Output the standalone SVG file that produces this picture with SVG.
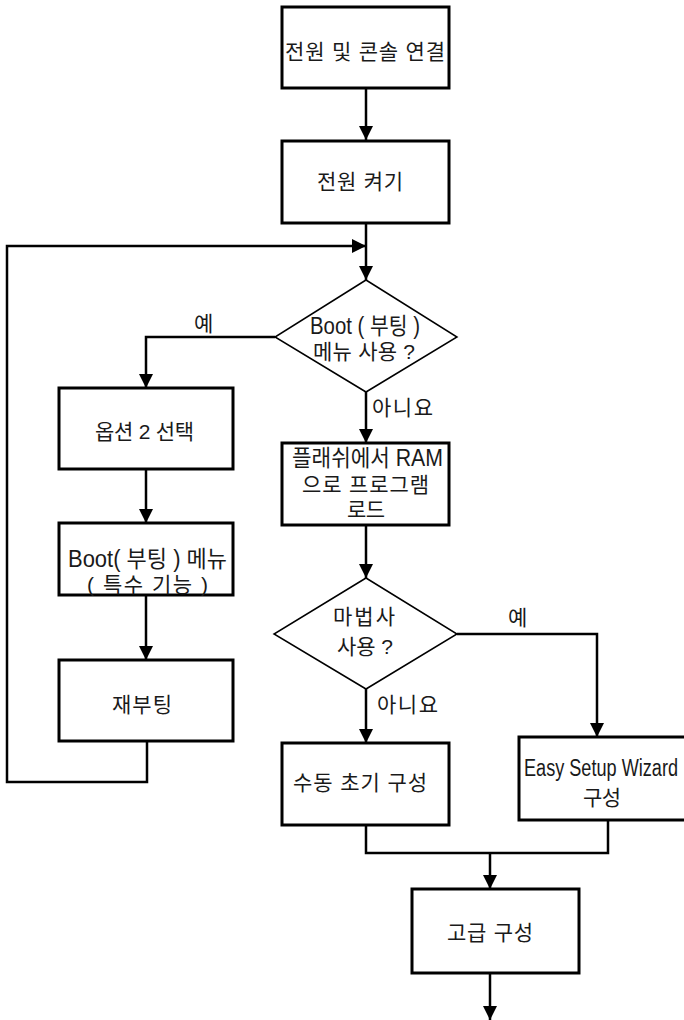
<svg xmlns="http://www.w3.org/2000/svg" width="684" height="1020" viewBox="0 0 684 1020">
<defs>
<style>
.box{fill:#fff;stroke:#000;stroke-width:3}
.dia{fill:#fff;stroke:#000;stroke-width:1.5}
.con{fill:none;stroke:#000;stroke-width:2.5;stroke-linejoin:miter}
text{font-family:"Liberation Sans","Noto Sans CJK KR",sans-serif;font-size:21px;fill:#1a1a1a;text-anchor:start}
.lat{font-size:23px}
</style>
<marker id="ah" markerUnits="userSpaceOnUse" markerWidth="14" markerHeight="14" refX="14" refY="7" orient="auto">
<path d="M0,0 L14,7 L0,14 z" fill="#000"/>
</marker>
</defs>
<rect width="684" height="1020" fill="#fff"/>
<g id="connectors">
<path class="con" d="M366,88 V140" marker-end="url(#ah)"/>
<path class="con" d="M366,223 V280" marker-end="url(#ah)"/>
<path class="con" d="M147,742 V782 H7 V246 H366" marker-end="url(#ah)"/>
<path class="con" d="M275,337 H146 V388" marker-end="url(#ah)"/>
<path class="con" d="M146,469 V523" marker-end="url(#ah)"/>
<path class="con" d="M146,595 V660" marker-end="url(#ah)"/>
<path class="con" d="M366,392 V443" marker-end="url(#ah)"/>
<path class="con" d="M366,525 V578" marker-end="url(#ah)"/>
<path class="con" d="M457,634 H597 V737" marker-end="url(#ah)"/>
<path class="con" d="M366,689 V743" marker-end="url(#ah)"/>
<path class="con" d="M366,825 V853 H608 V820"/>
<path class="con" d="M490,853 V889" marker-end="url(#ah)"/>
<path class="con" d="M490,973 V1020" marker-end="url(#ah)"/>
<text x="194" y="331" textLength="18">예</text>
<text x="372" y="415" textLength="61">아니요</text>
<text x="508" y="625" textLength="18">예</text>
<text x="377" y="712" textLength="61">아니요</text>
</g>
<g id="n1"><rect class="box" x="282" y="7" width="167" height="81"/><text x="285" y="59" textLength="160">전원 및 콘솔 연결</text></g>
<g id="n2"><rect class="box" x="282" y="141" width="167" height="82"/><text x="317" y="189" textLength="86">전원 켜기</text></g>
<g id="d1"><polygon class="dia" points="366,280 457,337 366,392 275,337"/><text class="lat" x="310" y="334" textLength="110" lengthAdjust="spacingAndGlyphs">Boot ( 부팅 )</text><text x="313" y="359" textLength="102">메뉴 사용 ?</text></g>
<g id="n3"><rect class="box" x="59" y="388" width="174" height="81"/><text x="95" y="439" textLength="99">옵션 2 선택</text></g>
<g id="n4"><rect class="box" x="59" y="523" width="174" height="72"/><text class="lat" x="68" y="567" textLength="159" lengthAdjust="spacingAndGlyphs">Boot( 부팅 ) 메뉴</text><text x="87" y="592" textLength="121">( 특수 기능 )</text></g>
<g id="n5"><rect class="box" x="59" y="660" width="174" height="81"/><text x="112" y="712" textLength="60">재부팅</text></g>
<g id="n6"><rect class="box" x="282" y="443" width="167" height="82"/><text class="lat" x="292" y="466" textLength="151" lengthAdjust="spacingAndGlyphs">플래쉬에서 RAM</text><text x="302" y="492" textLength="127">으로 프로그램</text><text x="347" y="517" textLength="38">로드</text></g>
<g id="d2"><polygon class="dia" points="366,578 457,634 366,689 274,634"/><text x="333" y="624" textLength="62">마법사</text><text x="337" y="654" textLength="56">사용 ?</text></g>
<g id="n7"><rect class="box" x="282" y="743" width="167" height="82"/><text x="293" y="790" textLength="134">수동 초기 구성</text></g>
<g id="n8"><rect class="box" x="519" y="737" width="170" height="83"/><text class="lat" x="524" y="776" textLength="154" lengthAdjust="spacingAndGlyphs">Easy Setup Wizard</text><text x="583" y="805" textLength="38">구성</text></g>
<g id="n9"><rect class="box" x="412" y="889" width="167" height="84"/><text x="447" y="940" textLength="86">고급 구성</text></g>
</svg>
